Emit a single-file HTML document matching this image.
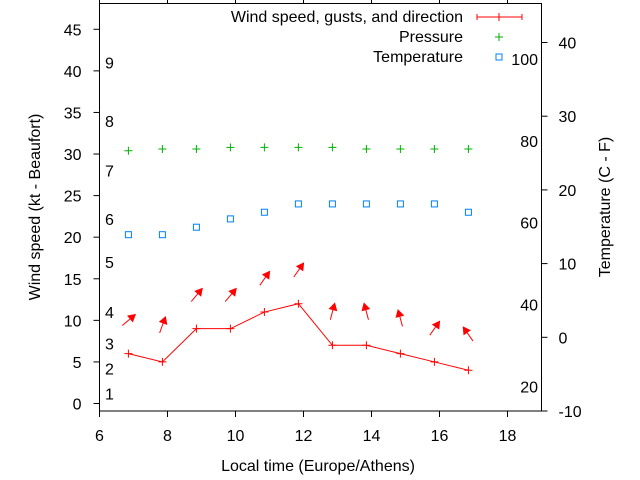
<!DOCTYPE html>
<html><head><meta charset="utf-8"><style>
html,body{margin:0;padding:0;background:#fff;}
svg{display:block;font-family:"Liberation Sans",sans-serif;}
</style></head><body>
<svg id="chart" width="640" height="480" viewBox="0 0 640 480" xmlns="http://www.w3.org/2000/svg"></svg>
<script>
const times = [6.85,7.85,8.85,9.85,10.85,11.85,12.85,13.85,14.85,15.85,16.85];
const windSpeed = [6,5,9,9,11,12,7,7,6,5,4];
const gusts = [10,9.4,13,13,15,16,11,11,10.2,9,8.3];
const windDir = [50,20,40,40,35,35,15,-15,-15,35,-35];
const pressure = [30.4,30.6,30.6,30.8,30.8,30.8,30.8,30.6,30.6,30.6,30.6];
const temperature = [20.3,20.3,21.2,22.2,23,24,24,24,24,24,23];
const xTicks = [6,8,10,12,14,16,18];
const yTicks = [0,5,10,15,20,25,30,35,40,45];
const y2Ticks = [-10,0,10,20,30,40];
const beaufort = [[1,1.2],[2,4.2],[3,7.2],[4,11],[5,17],[6,22.2],[7,28],[8,34],[9,41]];
const fahrenheit = [20,40,60,80,100];

const FS=16;
const L=99.5,R=541.5,T=3.5,B=411;
const X=v=>L+(v-6)/(19-6)*(R-L);
const Y=v=>B-(v+0.9)/(48.1+0.9)*(B-T);
const Y2=v=>B-(v+10)/10*73.7;
const svg=document.getElementById('chart');
const NS='http://www.w3.org/2000/svg';
function mk(tag,attrs,parent){const e=document.createElementNS(NS,tag);for(const k in attrs)e.setAttribute(k,attrs[k]);(parent||svg).appendChild(e);return e;}
function txt(x,y,s,anchor,parent){const t=mk('text',{x:x,y:y,'font-size':FS,'text-anchor':anchor||'middle',fill:'#000'},parent);t.textContent=s;return t;}

const frame=mk('rect',{x:L,y:T,width:R-L,height:B-T,fill:'none',stroke:'#000','stroke-width':1});



xTicks.forEach(v=>{
  const g=mk('g',{});
  
  
  mk('line',{x1:X(v),x2:X(v),y1:B,y2:B+6,stroke:'#000'},g);
  mk('line',{x1:X(v),x2:X(v),y1:T,y2:T-6,stroke:'#000'},g);
  txt(X(v),B+30,String(v),'middle',g);
});
yTicks.forEach(v=>{
  const g=mk('g',{});
  
  
  mk('line',{x1:L-6,x2:L,y1:Y(v),y2:Y(v),stroke:'#000'},g);
  txt(L-18,Y(v)+6,String(v),'end',g);
});
y2Ticks.forEach(v=>{
  const g=mk('g',{});
  
  
  mk('line',{x1:R,x2:R+6,y1:Y2(v),y2:Y2(v),stroke:'#000'},g);
  txt(R+17,Y2(v)+6,String(v),'start',g);
});
beaufort.forEach(b=>{
  const t=txt(105,Y(b[1])+6,String(b[0]),'start');
  
  
});
fahrenheit.forEach(f=>{
  const c=(f-32)*5/9;
  const t=txt(538,Y2(c)+6,String(f),'end');
  
  
});

let t=txt(318,471,'Local time (Europe/Athens)');


t=mk('text',{x:0,y:0,'font-size':FS,'text-anchor':'middle',transform:'translate(40,207) rotate(-90)'});
t.textContent='Wind speed (kt - Beaufort)';


t=mk('text',{x:0,y:0,'font-size':FS,'text-anchor':'middle',transform:'translate(610,207) rotate(-90)'});
t.textContent='Temperature (C - F)';



const line=mk('polyline',{points:times.map((v,i)=>X(v)+','+Y(windSpeed[i])).join(' '),fill:'none',stroke:'#f00','stroke-width':1});


times.forEach((v,i)=>{
  const p=mk('path',{d:`M${X(v)-4},${Y(windSpeed[i])}h8M${X(v)},${Y(windSpeed[i])-4}v8`,stroke:'#f00','stroke-width':1});
  
  
});
times.forEach((v,i)=>{
  const cx=X(v),cy=Y(gusts[i]);
  const g=mk('g',{transform:`translate(${cx},${cy}) rotate(${windDir[i]})`});
  
  
  mk('line',{x1:0,y1:8,x2:0,y2:-4,stroke:'#f00','stroke-width':1},g);
  mk('polygon',{points:'0,-10 -4.5,-2 4.5,-2',fill:'#f00'},g);
});
times.forEach((v,i)=>{
  const p=mk('path',{d:`M${X(v)-4},${Y(pressure[i])}h8M${X(v)},${Y(pressure[i])-4}v8`,stroke:'#00b000','stroke-width':1});
  
  
});
times.forEach((v,i)=>{
  const r=mk('rect',{x:X(v)-3,y:Y(temperature[i])-3,width:6,height:6,fill:'none',stroke:'#0080ff','stroke-width':1});
  
  
});

const lg=mk('g',{});


txt(463,22,'Wind speed, gusts, and direction','end',lg);
mk('path',{d:'M477,17h45M477,14v6M522,14v6M499,13v8',stroke:'#f00','stroke-width':1},lg);
txt(463,42,'Pressure','end',lg);
mk('path',{d:'M495,37h8M499,33v8',stroke:'#00b000'},lg);
txt(463,62,'Temperature','end',lg);
mk('rect',{x:496,y:54,width:6,height:6,fill:'none',stroke:'#0080ff'},lg);
</script>
</body></html>
